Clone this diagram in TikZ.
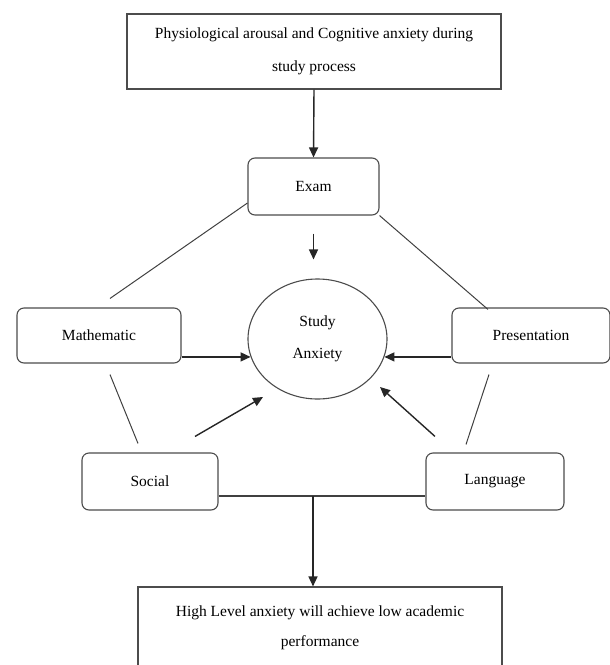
\documentclass[tikz,border=0pt]{standalone}
\usepackage{fontspec}
\setmainfont{Liberation Serif}
\usepackage{tikz}
\usetikzlibrary{calc,shapes,arrows.meta}
\tikzset{
   plainbox/.style={draw=black!70, line width=1.1pt, rectangle, align=center,
                    font=\fontsize{15.5}{32}\selectfont},
   roundbox/.style={plainbox, rounded corners=7pt, minimum height=57pt},
}

\begin{document}
\begin{tikzpicture}[x=1pt,y=-1pt,
                    >={Triangle[length=10pt,width=9pt]},
                    link/.style={draw=black!75,line width=1pt},
                    flow/.style={->,draw=black!85,line width=1.4pt},
                    factor/.style={roundbox}]
\useasboundingbox (0,0) rectangle (610,665);
\begin{scope}
\node[plainbox,minimum width=374pt,minimum height=75pt,font=\fontsize{15.5}{33}\selectfont]
      (cause) at (314,51.5) {Physiological arousal and Cognitive anxiety during\\study process};
\node[factor,minimum width=131pt] (exam) at (313.5,186.5) {Exam};
\node[plainbox,ellipse,minimum width=139pt,minimum height=120pt,inner sep=0pt]
      (anx) at (317.5,339) {Study\\Anxiety};
\node[factor,minimum width=164pt,minimum height=55pt] (math) at (99,335.5)  {Mathematic};
\node[factor,minimum width=158pt,minimum height=55pt] (pres) at (531,335.5) {Presentation};
\node[factor,minimum width=136pt] (social) at (150,481.5) {Social};
\node[factor,minimum width=138pt] (lang)   at (495,481.5) {Language};
\node[plainbox,minimum width=364pt,minimum height=82pt,font=\fontsize{15.5}{30}\selectfont]
      (result) at (320,628) {High Level anxiety will achieve low academic\\performance};
\end{scope}
%
\draw[flow] (cause.south) -- (exam.north);
\draw[flow,shorten <=18pt,shorten >=19pt] (exam.south) -- (exam.south |- anx.north);
%
\draw[link] ($(exam.west)+(0,16.5)$)   -- ($(math.north)+(11,-9)$);
\draw[link] (exam.south east)          -- ($(pres.north)+(-43,2)$);
\draw[link] ($(math.south)+(11,11)$)   -- ($(social.north)+(-12,-9)$);
\draw[link] ($(pres.south)+(-42,11)$)  -- ($(lang.north)+(-29,-8)$);
%
\draw[flow] (anx.195 -| math.east) -- (anx.195);
\draw[flow] (anx.345 -| pres.west) -- (anx.345);
\draw[flow] ($(social.north)+(45,-16)$) -- ($(anx.center)+(-54.5,58)$);
\draw[flow] ($(lang.north)+(-60,-16)$)  -- ($(anx.center)+(62.5,48)$);
%
\draw[link,line width=1.2pt] ($(social.east)+(0,14.5)$) -- ($(lang.west)+(0,14.5)$);
\coordinate (join) at (313,496);
\draw[flow] (join) -- (join |- result.north);
\end{tikzpicture}
\end{document}
